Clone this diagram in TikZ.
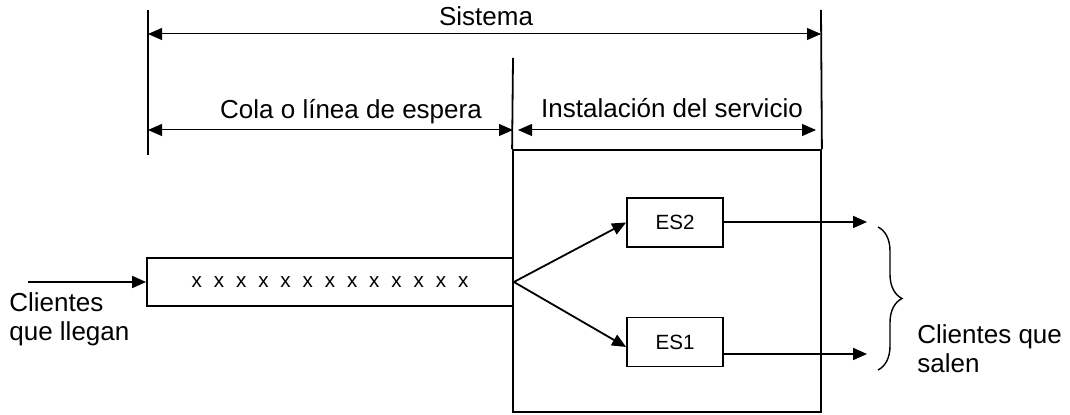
\documentclass[tikz,border=0pt]{standalone}
\usepackage{fontspec}
\setmainfont{Liberation Sans}
\usetikzlibrary{arrows.meta,decorations.pathreplacing}
\begin{document}
\begin{tikzpicture}[x=0.5pt,y=-0.5pt,
  line/.style={line width=0.9pt},
  tip/.style={-{Triangle[length=7pt,width=6pt]}},
  dim/.style={line width=0.5pt,{Triangle[length=7pt,width=6pt]}-{Triangle[length=7pt,width=6pt]}},
  lbl/.style={font=\fontsize{13}{14.5}\selectfont, inner sep=0},
  box/.style={draw, line width=0.9pt, inner sep=0, font=\fontsize{10.3}{12}\selectfont}]
\useasboundingbox (0,0) rectangle (1070,415);

% service facility and queue
\node[box, minimum width=154pt, minimum height=131pt] (serv) at (667,281) {};
\node[box, minimum width=183pt, minimum height=24pt] (queue) at (330,282)
  {\spaceskip=5.95pt x x x x x x x x x x x x x};
\node[box, minimum width=48pt, minimum height=24.5pt] (ES2) at (675,222.5) {ES2};
\node[box, minimum width=48pt, minimum height=24.5pt] (ES1) at (675,342) {ES1};

% extension lines
\coordinate (sysLt) at (148,10);
\coordinate (sysLb) at (148,155);
\coordinate (sysRt) at (821,10);
\coordinate (midT) at (513,58);
\draw[line] (sysLt) -- (sysLb);
\draw[line] (sysRt) -- (serv.north east);
\draw[line] (midT) -- (serv.north west);

% dimension arrows
\coordinate (sysA) at (148,34);
\coordinate (sysB) at (821,34);
\coordinate (colA) at (148,130);
\coordinate (colB) at (513,130);
\coordinate (insA) at (518,130);
\coordinate (insB) at (816,130);
\draw[dim] (sysA) -- (sysB);
\draw[dim] (colA) -- (colB);
\draw[dim] (insA) -- (insB);

% labels
\node[lbl, anchor=base] (tSis) at (486,26) {Sistema};
\node[lbl, anchor=base] (tCola) at (351,119) {Cola o línea de espera};
\node[lbl, anchor=base] (tInst) at (672,118) {Instalación del servicio};
\node[lbl, anchor=base west, align=left] (tIn) at (9,341) {Clientes\\que llegan};
\node[lbl, anchor=base west, align=left] (tOut) at (917,373) {Clientes que\\salen};

% flow of customers
\coordinate (inS) at (28,282);
\draw[line,tip] (inS) -- (queue.west);
\draw[line,tip] (queue.east) -- (ES2.west);
\draw[line,tip] (queue.east) -- ([yshift=-2.5pt]ES1.west);
\coordinate (o2) at (867,222);
\coordinate (o1) at (867,354);
\draw[line,tip] (ES2.east |- o2) -- (o2);
\draw[line,tip] (ES1.east |- o1) -- (o1);

% brace grouping departing customers
\coordinate (brT) at (878,227);
\coordinate (brB) at (878,370);
\draw[line width=0.7pt, decorate, decoration={brace, amplitude=12pt}] (brT) -- (brB);
\end{tikzpicture}
\end{document}
